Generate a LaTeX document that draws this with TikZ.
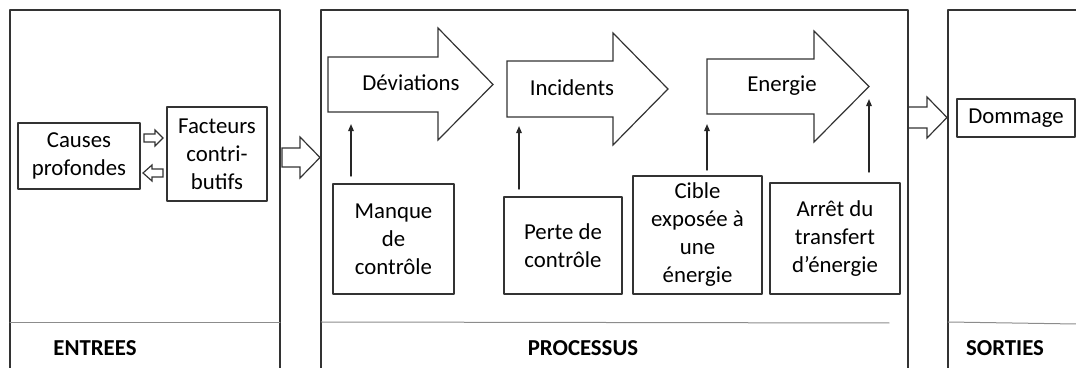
\documentclass[tikz,border=0pt]{standalone}
\usepackage{fontspec}
\setmainfont{Carlito}
\usepackage{tikz}
\usetikzlibrary{arrows.meta}

\tikzset{
  box/.style={draw=black!80,line width=0.6pt,inner sep=0pt,align=center,font=\fontsize{11.4}{14}\selectfont},
  lbl/.style={inner sep=0pt,font=\fontsize{11.4}{14}\selectfont},
  title/.style={inner sep=0pt,font=\fontsize{11.4}{14}\selectfont\bfseries},
  blk/.style={draw=black!80,line width=0.6pt,line join=miter},
  sep/.style={draw=black!45,line width=0.5pt},
  up/.style={-{Triangle[length=3.6pt,width=2.8pt]},black!85,line width=0.75pt}
}

\begin{document}
\begin{tikzpicture}[line cap=round,line join=round,x=0.5pt,y=-0.5pt]
\useasboundingbox (0,0) rectangle (1076,368);
\clip (0,0) rectangle (1076,368);
% panels
\draw[black!80,line width=0.6pt] (10,10) rectangle (280,390);
\draw[black!80,line width=0.6pt] (321,10) rectangle (908,390);
\draw[black!80,line width=0.6pt] (948,10) rectangle (1100,390);
\draw[sep] (10,323) -- (280,323);
\draw[sep] (321,322) -- (889,323);
\draw[sep] (948,322) -- (1076,324);
\node[title] (entrees) at (95,348) {ENTREES};
\node[title] (processus) at (583,348) {PROCESSUS};
\node[title] (sorties) at (1005,348) {SORTIES};
% entrees
\node[box,minimum width=61pt,minimum height=33pt] (causes) at (79,156) {Causes\\profondes};
\node[box,minimum width=50pt,minimum height=47pt] (facteurs) at (217,154) {Facteurs\\contri-\\butifs};
\draw[blk] (144,134) -- (155,134) -- (155,130) -- (163,138) -- (155,146) -- (155,142) -- (144,142) -- cycle;
\draw[blk] (163,169) -- (152,169) -- (152,165) -- (143,173) -- (152,181) -- (152,177) -- (163,177) -- cycle;
\draw[blk] (282,148) -- (300,148) -- (300,137) -- (320,157.5) -- (300,178) -- (300,167) -- (282,167) -- cycle;
% processus
\draw[blk] (328,57) -- (438,57) -- (438,28) -- (493,84.5) -- (438,140) -- (438,112) -- (328,112) -- cycle;
\draw[blk] (507,61) -- (613,61) -- (613,33) -- (668,89) -- (613,145) -- (613,117) -- (507,117) -- cycle;
\draw[blk] (707,59) -- (814,59) -- (814,31) -- (869,86.5) -- (814,142) -- (814,114) -- (707,114) -- cycle;
\node[lbl] (devi) at (411,83) {Déviations};
\node[lbl] (inci) at (572,88) {Incidents};
\node[lbl] (ener) at (782,86) {Energie};
\node[box,minimum width=60.5pt,minimum height=55pt] (manque) at (393.5,239) {Manque\\de\\contrôle};
\node[box,minimum width=59pt,minimum height=48.5pt] (perte) at (563,245.5) {Perte de\\contrôle};
\node[box,minimum width=64.5pt,minimum height=59pt] (cible) at (697.5,235) {Cible\\exposée à\\une\\énergie};
\node[box,minimum width=65pt,minimum height=55.5pt] (arret) at (835,238.5) {Arrêt du\\transfert\\d’énergie};
\coordinate (m1) at (351,176);
\coordinate (m2) at (351,124);
\coordinate (p1) at (519,189);
\coordinate (p2) at (519,126);
\coordinate (c1) at (707,170);
\coordinate (c2) at (707,124);
\coordinate (a1) at (869,172);
\coordinate (a2) at (869,99);
\draw[up] (m1) -- (m2);
\draw[up] (p1) -- (p2);
\draw[up] (c1) -- (c2);
\draw[up] (a1) -- (a2);
% sorties
\draw[blk] (908,107) -- (927,107) -- (927,97) -- (947,117.5) -- (927,138) -- (927,128) -- (908,128) -- cycle;
\node[box,minimum width=59pt,minimum height=19pt] (dommage) at (1016,118) {Dommage};
\end{tikzpicture}
\end{document}
